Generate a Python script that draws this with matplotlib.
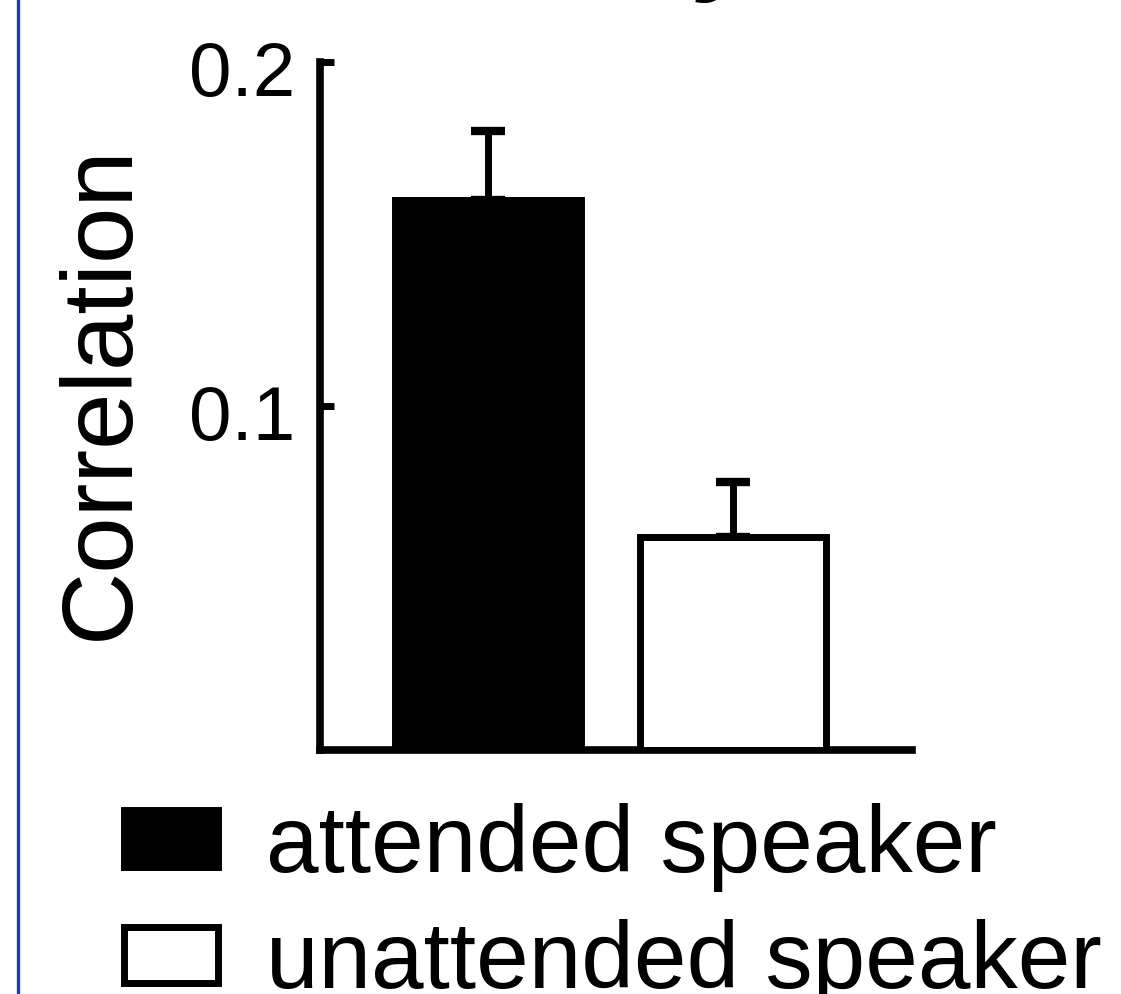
import matplotlib
matplotlib.use("Agg")
import matplotlib.pyplot as plt
from matplotlib.patches import Patch
from matplotlib.lines import Line2D
from matplotlib.transforms import ScaledTranslation

plt.rcParams['font.family'] = ['Liberation Sans', 'DejaVu Sans']

# data
conditions = ["attended speaker", "unattended speaker"]
means = [0.160, 0.062]
errors = [0.020, 0.016]
face_colors = ["black", "white"]
ytick_vals = [0.1, 0.2]
ytick_labels = ["0.1", "0.2"]
ylabel = "Correlation"

W, H = 1121, 994
fig = plt.figure(figsize=(W / 100, H / 100), dpi=100)
ax = fig.add_axes([320 / W, 1 - 750 / H, (912 - 320) / W, (750 - 62) / H])

x = [1, 2]
lw = 5
ax.bar(x, means, width=0.76, color=face_colors, edgecolor="black",
       linewidth=lw, zorder=3)
ax.errorbar(x, means, yerr=[[0, 0], errors], fmt="none", ecolor="black",
            elinewidth=lw, capsize=12, capthick=6, zorder=2)

ax.set_xlim(0.314, 2.731)
ax.set_ylim(0, 0.2)
ax.set_xticks([])
ax.set_yticks(ytick_vals)
ax.set_yticklabels(ytick_labels)
ax.tick_params(axis="y", direction="in", length=10, width=5, pad=18,
               labelsize=55)
for lab in ax.get_yticklabels():
    lab.set_transform(lab.get_transform() +
                      ScaledTranslation(0, -5 / 72, fig.dpi_scale_trans))
for s in ["top", "right"]:
    ax.spines[s].set_visible(False)
for s in ["left", "bottom"]:
    ax.spines[s].set_linewidth(5.5)
    ax.spines[s].set_capstyle("projecting")
ax.set_ylabel(ylabel, fontsize=73, labelpad=29, y=0.52)

handles = [Patch(facecolor=c, edgecolor="black", linewidth=lw) for c in face_colors]
fig.legend(handles, conditions, loc="upper left",
           bbox_to_anchor=(124 / W, 1 - 803 / H), frameon=False,
           fontsize=68, handlelength=1.0, handleheight=0.55,
           handletextpad=0.5, labelspacing=0.29, borderpad=0,
           borderaxespad=0)

# left blue border line
fig.add_artist(Line2D([18 / W, 18 / W], [0, 1], color="#1f35c8", linewidth=2.4))

# partially visible title glyph at top
fig.text(730 / W, 1 + 0.02, "y", fontsize=80, fontweight="bold",
         fontstyle="italic", ha="center", va="baseline")

fig.savefig("out.png", dpi=100)
